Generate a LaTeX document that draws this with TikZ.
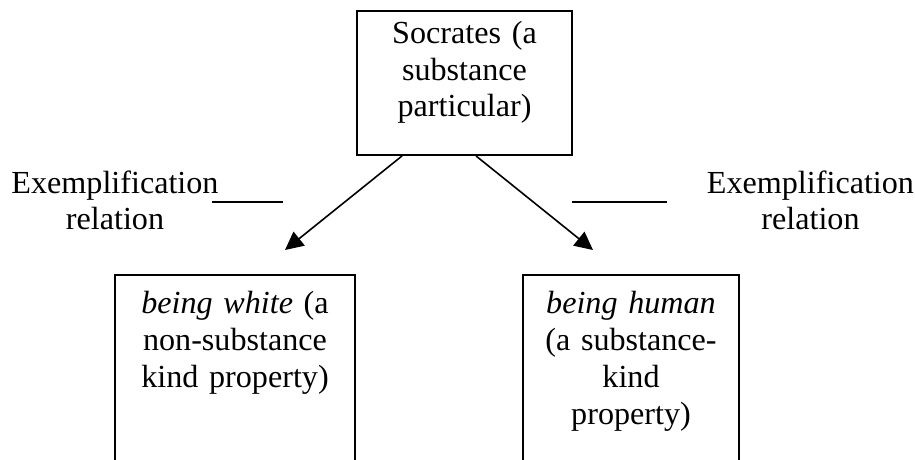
\documentclass[tikz,border=0pt]{standalone}
\usepackage{fontspec}
\setmainfont{Liberation Serif}
\usetikzlibrary{arrows.meta}

\tikzset{
  box/.style={draw, line width=0.7pt, anchor=north, align=center, inner xsep=0pt,
    text height=8.4pt, font=\fontsize{12pt}{13.8pt}\selectfont},
  relation/.style={anchor=base, align=center, text width=3cm, inner sep=0pt,
    font=\fontsize{12pt}{13.8pt}\selectfont},
  exarrow/.style={-{Triangle[length=6.8pt,width=6.6pt]}, line width=0.6pt}
}

\begin{document}
\begin{tikzpicture}
	\useasboundingbox (0,0) rectangle (12.008,-6.024);
	\clip (0,0) rectangle (12.008,-6.024);

	\node[box, text width=2.821cm, inner ysep=3.6pt, text depth=38.2pt] (socrates) at (6.096,-0.131) {
		Socrates (a\\substance\\particular)
	};

	\node[box, text width=3.150cm, inner ysep=6.15pt, text depth=70pt] (white) at (3.084,-3.596) {
		\textit{being white} (a\\non-substance\\kind property)
	};

	\node[box, text width=2.835cm, inner ysep=6.15pt, text depth=70pt] (human) at (8.281,-3.596) {
		\textit{being human}\\(a substance-\\kind\\property)
	};

	\node[relation] (exleft) at (1.509,-2.533) {Exemplification\\relation};
	\node[relation] (exright) at (10.636,-2.533) {Exemplification\\relation};

	\coordinate (tipleft) at (3.740,-3.281);
	\coordinate (tipright) at (7.782,-3.281);
	\coordinate (ruleleft a) at (2.782,-2.651);
	\coordinate (ruleleft b) at (3.714,-2.651);
	\coordinate (ruleright a) at (7.506,-2.651);
	\coordinate (ruleright b) at (8.753,-2.651);

	\draw[exarrow] ([xshift=-0.820cm]socrates.south) -- (tipleft);
	\draw[exarrow] ([xshift=0.151cm]socrates.south) -- (tipright);

	\draw[line width=0.6pt] (ruleleft a) -- (ruleleft b);
	\draw[line width=0.6pt] (ruleright a) -- (ruleright b);

\end{tikzpicture}
\end{document}
